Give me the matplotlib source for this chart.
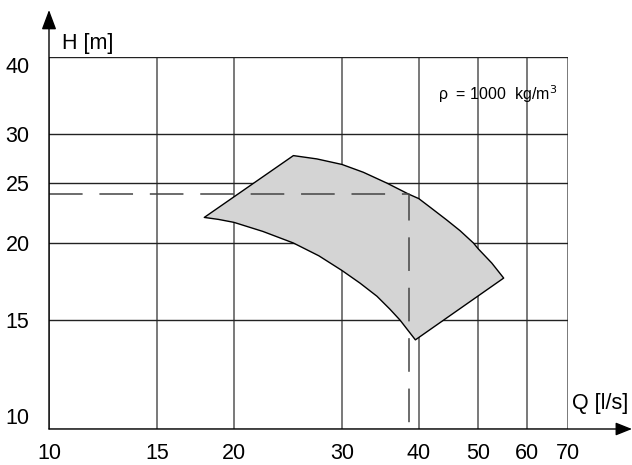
import matplotlib
matplotlib.use("Agg")
import matplotlib.pyplot as plt

plt.rcParams['font.family'] = ['Liberation Sans', 'DejaVu Sans']

# axis ticks
q_ticks = [10, 15, 20, 30, 40, 50, 60, 70]
h_ticks = [10, 15, 20, 25, 30, 40]

# working range outline: upper curve (left -> right), lower curve (left -> right)
top_q = [25.0, 27.3, 30.0, 32.5, 35.5, 38.5, 40.0, 41.7, 44.4, 46.7, 49.1, 50.0, 52.6, 55.0]
top_h = [27.7, 27.36, 26.8, 26.03, 25.0, 24.0, 23.6, 22.87, 21.8, 20.94, 20.0, 19.57, 18.56, 17.55]
bot_q = [17.9, 18.87, 20.0, 22.3, 25.0, 27.5, 30.0, 32.1, 34.2, 35.9, 37.3, 39.5]
bot_h = [22.0, 21.84, 21.6, 20.88, 20.0, 19.07, 18.05, 17.22, 16.4, 15.63, 15.0, 13.94]

# duty point
duty_q = 38.5
duty_h = 24.0

fig = plt.figure(figsize=(6.32, 4.65), dpi=100)
ax = fig.add_axes([49 / 632, 1 - 429 / 465, 519 / 632, 372 / 465])
ax.set_xscale('log')
ax.set_yscale('log')
ax.set_xlim(10, 70)
ax.set_ylim(10, 40)

# grid
for q in q_ticks:
    ax.axvline(q, color='#555555', lw=1.1, zorder=1)
for h in h_ticks:
    ax.axhline(h, color='#222222', lw=1.0, zorder=1)

# shaded region
poly_q = bot_q + top_q[::-1]
poly_h = bot_h + top_h[::-1]
ax.fill(poly_q, poly_h, facecolor='#d4d4d4', edgecolor='black', lw=1.0,
        joinstyle='round', zorder=2)

# duty point dashed lines
ax.plot([10, duty_q, duty_q], [duty_h, duty_h, 10], color='#444444', lw=1.1,
        dashes=(22, 11), zorder=3)

for s in ax.spines.values():
    s.set_visible(False)

ax.set_xticks(q_ticks)
ax.set_xticklabels([str(v) for v in q_ticks])
ax.set_yticks(h_ticks)
ax.set_yticklabels([str(v) for v in h_ticks])
ax.xaxis.set_minor_locator(matplotlib.ticker.NullLocator())
ax.yaxis.set_minor_locator(matplotlib.ticker.NullLocator())
ax.tick_params(axis='both', length=0, labelsize=15.5)
ax.tick_params(axis='x', pad=10)
ax.tick_params(axis='y', pad=14)
ylabels = ax.get_yticklabels()
ylabels[-1].set_va('top')
ylabels[0].set_va('bottom')

# axis arrows
ax.annotate('', xy=(632 / 632, 1 - 429 / 465), xytext=(49 / 632, 1 - 429 / 465),
            xycoords='figure fraction', textcoords='figure fraction',
            arrowprops=dict(arrowstyle='-|>,head_length=1.0,head_width=0.4',
                            color='black', lw=1.0, shrinkA=0, shrinkB=0))
ax.annotate('', xy=(49 / 632, 1 - 10 / 465), xytext=(49 / 632, 1 - 429 / 465),
            xycoords='figure fraction', textcoords='figure fraction',
            arrowprops=dict(arrowstyle='-|>,head_length=1.2,head_width=0.45',
                            color='black', lw=1.0, shrinkA=0, shrinkB=0))

fig.text(62 / 632, 1 - 44 / 465, 'H [m]', fontsize=15.5, va='center', ha='left')
fig.text(572 / 632, 1 - 403 / 465, 'Q [l/s]', fontsize=15.5, va='center', ha='left')
fig.text(438 / 632, 1 - 94 / 465, '\u03c1  = 1000  kg/m$^3$', fontsize=11.5,
         va='center', ha='left')

fig.savefig('out.png', dpi=100)
